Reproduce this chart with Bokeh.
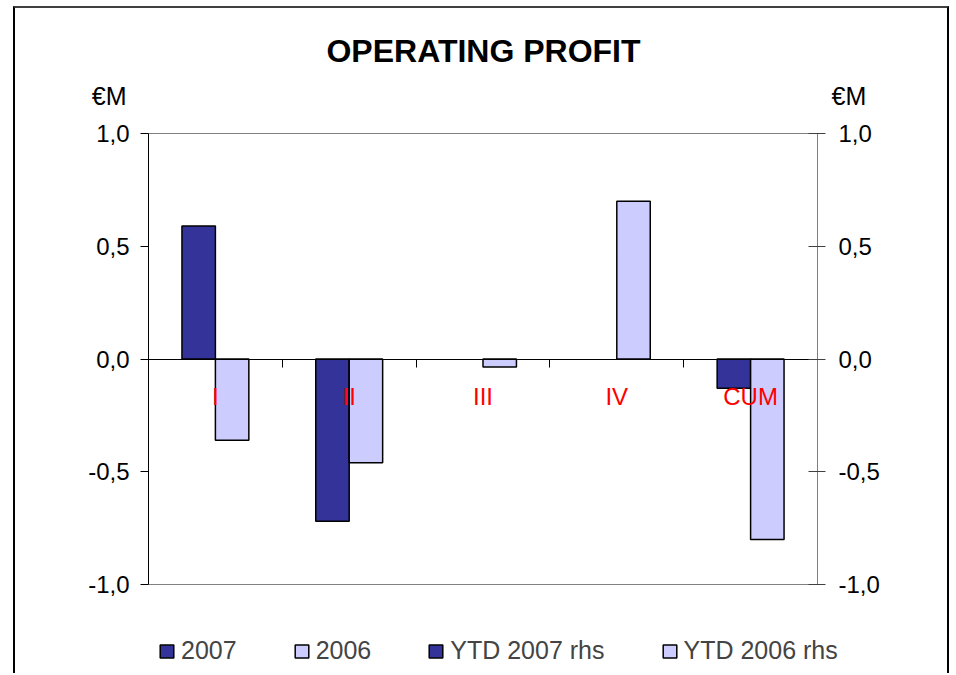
from bokeh.plotting import figure
from bokeh.models import (Range1d, LinearAxis, FixedTicker, CustomJSTickFormatter,
                          Label, Legend, LegendItem, ColumnDataSource)
from bokeh.embed import file_html
from bokeh.resources import INLINE
from bokeh.core.properties import value

# ---- data ----
categories = ["I", "II", "III", "IV", "CUM"]
op_2007 = [0.59, -0.72, float("nan"), float("nan"), -0.13]
op_2006 = [-0.36, -0.46, -0.035, 0.70, -0.80]
ytd_2007_rhs = [float("nan"), float("nan"), float("nan"), float("nan"), float("nan")]
ytd_2006_rhs = [float("nan"), float("nan"), float("nan"), float("nan"), float("nan")]
y_ticks = [-1.0, -0.5, 0.0, 0.5, 1.0]
series_names = ["2007", "2006", "YTD 2007 rhs", "YTD 2006 rhs"]
title_text = "OPERATING PROFIT"
unit_text = "€M"

FONT = "Liberation Sans"
DARK = "#333399"
LIGHT = "#CCCCFF"
GRAY = "#808080"

# ---- layout (pixels inside the canvas) ----
CW, CH = 936, 667            # canvas size
PL, PT = 133, 125            # plot-area left / top
PW, PH = 669, 451            # plot-area width / height

n = len(categories)
y_lo, y_hi = y_ticks[0], y_ticks[-1]
ppx = PW / n
ppy = PH / (y_hi - y_lo)
x_range = Range1d(-PL / ppx, n + (CW - PL - PW) / ppx)
y_start = y_lo - (CH - PT - PH) / ppy
y_end = y_hi + PT / ppy

centers = [i + 0.5 for i in range(n)]
bounds = list(range(1, n))
bar_w = 0.25

p = figure(x_range=x_range, y_range=Range1d(y_start, y_end),
           width=CW, height=CH,
           min_border=0, min_border_left=0, min_border_right=0,
           min_border_top=0, min_border_bottom=0,
           output_backend="svg", toolbar_location=None,
           styles={"margin-left": "13px", "margin-top": "6px",
                   "border-top": "2px solid #404040",
                   "border-left": "2px solid black",
                   "border-right": "2px solid black"})
p.extra_y_ranges = {"rhs": Range1d(y_start, y_end)}

p.outline_line_color = None
p.background_fill_color = "white"
p.border_fill_color = "white"
p.grid.visible = False

# default axes (captured before any other axis is added)
xa = p.xaxis[0]
ya = p.yaxis[0]

src = ColumnDataSource(dict(
    x07=[c - bar_w / 2 for c in centers], x06=[c + bar_w / 2 for c in centers],
    v07=op_2007, v06=op_2006, y07=ytd_2007_rhs, y06=ytd_2006_rhs))
bar_kw = dict(width=bar_w, bottom=0, source=src, line_color="black", line_width=1.5)
r07 = p.vbar(x="x07", top="v07", fill_color=DARK, **bar_kw)
r06 = p.vbar(x="x06", top="v06", fill_color=LIGHT, **bar_kw)
ry07 = p.vbar(x="x07", top="y07", fill_color=DARK, y_range_name="rhs", **bar_kw)
ry06 = p.vbar(x="x06", top="y06", fill_color=LIGHT, y_range_name="rhs", **bar_kw)

fmt = CustomJSTickFormatter(code="return tick.toFixed(1).replace('.', ',');")

# axis through zero: red category labels at centres, ticks at category boundaries
xa.fixed_location = 0
xa.bounds = (0, n)
xa.ticker = FixedTicker(ticks=centers, minor_ticks=bounds)
xa.major_label_overrides = {c: lab for c, lab in zip(centers, categories)}
xa.axis_line_color = "black"
xa.major_tick_line_color = None
xa.major_tick_in = 0
xa.major_tick_out = 0
xa.minor_tick_line_color = "black"
xa.minor_tick_in = 0
xa.minor_tick_out = 8
xa.major_label_standoff = 16
xa.major_label_text_color = "red"
xa.major_label_text_font = FONT
xa.major_label_text_font_size = "24px"

# left axis
ya.fixed_location = 0
ya.bounds = (y_lo, y_hi)
ya.ticker = FixedTicker(ticks=y_ticks)
ya.formatter = fmt
ya.axis_line_color = "black"
ya.major_tick_line_color = "black"
ya.major_tick_in = 0
ya.major_tick_out = 8
ya.minor_tick_line_color = None
ya.major_label_standoff = 11
ya.major_label_text_font = FONT
ya.major_label_text_font_size = "24px"
ya.major_label_text_color = "black"

# right axis
yr = LinearAxis(y_range_name="rhs", fixed_location=n, bounds=(y_lo, y_hi),
                ticker=FixedTicker(ticks=y_ticks), formatter=fmt,
                axis_line_color=GRAY, major_tick_line_color="#404040",
                minor_tick_line_color=None,
                major_tick_in=9, major_tick_out=8, major_label_standoff=13,
                major_label_text_font=FONT, major_label_text_font_size="24px",
                major_label_text_color="black")
p.add_layout(yr, "right")

# plot-area top / bottom edges (gray), as tick-less axes
for loc, side in [(y_hi, "above"), (y_lo, "below")]:
    edge = LinearAxis(fixed_location=loc, bounds=(0, n), ticker=FixedTicker(ticks=[]),
                      axis_line_color=GRAY, axis_line_width=1,
                      major_tick_line_color=None, minor_tick_line_color=None)
    p.add_layout(edge, side)

# title and unit labels (screen units from the frame's bottom-left)
lab_kw = dict(x_units="screen", y_units="screen", text_font=FONT, text_color="black",
              text_baseline="middle")
p.add_layout(Label(x=468, y=CH - 42, text=title_text, text_font_size="32px",
                   text_font_style="bold", text_align="center", **lab_kw))
p.add_layout(Label(x=111, y=CH - 87, text=unit_text, text_font_size="25px",
                   text_align="right", **lab_kw))
p.add_layout(Label(x=816, y=CH - 87, text=unit_text, text_font_size="25px",
                   text_align="left", **lab_kw))

legend = Legend(items=[LegendItem(label=value(nm), renderers=[r])
                       for nm, r in zip(series_names, [r07, r06, ry07, ry06])],
                orientation="horizontal", location=(143, 10), spacing=56,
                padding=0, margin=0, border_line_color=None, background_fill_alpha=0,
                glyph_width=17, glyph_height=16, label_standoff=6,
                label_text_font=FONT, label_text_font_size="25px")
p.add_layout(legend)

open("out.html", "w").write(file_html(p, INLINE))
